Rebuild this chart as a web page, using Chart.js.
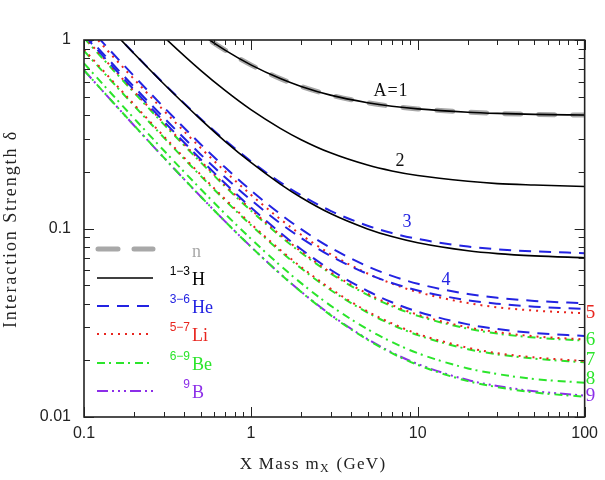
<!DOCTYPE html>
<html>
<head>
<meta charset="utf-8">
<script src="https://cdn.jsdelivr.net/npm/chart.js@4.4.1/dist/chart.umd.min.js"></script>
<style>
  html, body { margin: 0; padding: 0; background: #fff; }
</style>
</head>
<body>
<canvas id="myChart" width="605" height="480"></canvas>
<script>
// X mass in GeV, shared by every curve
const masses = [0.1, 0.15, 0.2, 0.3, 0.5, 0.7, 1, 1.5, 2, 3, 5, 7, 10, 20, 30, 50, 100];

// interaction strength delta
const neutron = [3.81, 2.67, 2.10, 1.53, 1.079, 0.884, 0.738, 0.624, 0.567, 0.510, 0.465, 0.445, 0.431, 0.414, 0.408, 0.403, 0.400];
const h1  = [3.81, 2.67, 2.10, 1.53, 1.079, 0.884, 0.738, 0.624, 0.567, 0.510, 0.465, 0.445, 0.431, 0.414, 0.408, 0.403, 0.400];
const h2  = [2.79, 1.92, 1.48, 1.041, 0.690, 0.540, 0.427, 0.340, 0.296, 0.252, 0.217, 0.202, 0.191, 0.178, 0.173, 0.170, 0.167];
const h3  = [1.62, 1.104, 0.845, 0.586, 0.379, 0.290, 0.224, 0.172, 0.146, 0.120, 0.0995, 0.0906, 0.0840, 0.0762, 0.0736, 0.0716, 0.0700];
const he3 = [1.623, 1.106, 0.848, 0.589, 0.3825, 0.294, 0.2275, 0.1758, 0.150, 0.1241, 0.1035, 0.0946, 0.0880, 0.0802, 0.0776, 0.0756, 0.0740];
const he4 = [1.245, 0.843, 0.642, 0.441, 0.280, 0.2111, 0.1594, 0.1193, 0.0992, 0.0791, 0.0630, 0.0561, 0.0509, 0.0449, 0.0429, 0.0413, 0.0401];
const he5 = [1.091, 0.739, 0.563, 0.388, 0.2472, 0.1869, 0.1418, 0.1066, 0.0891, 0.0715, 0.0574, 0.0514, 0.0469, 0.0416, 0.0399, 0.0385, 0.0374];
const he6 = [1.061, 0.716, 0.543, 0.371, 0.2328, 0.1737, 0.1294, 0.0949, 0.0776, 0.0604, 0.0466, 0.0406, 0.0362, 0.0310, 0.0293, 0.0279, 0.0269];
const li5 = [1.202, 0.813, 0.618, 0.423, 0.2678, 0.2011, 0.1511, 0.1121, 0.0927, 0.0732, 0.0577, 0.0510, 0.0460, 0.0402, 0.0382, 0.0367, 0.0355];
const li6 = [1.041, 0.702, 0.533, 0.3635, 0.2280, 0.1699, 0.1264, 0.0925, 0.0756, 0.0586, 0.0451, 0.0393, 0.0349, 0.0299, 0.0282, 0.0268, 0.0258];
const li7 = [0.890, 0.5995, 0.4543, 0.3092, 0.1931, 0.1433, 0.1060, 0.0770, 0.0625, 0.0480, 0.0363, 0.0314, 0.0276, 0.0233, 0.0218, 0.0207, 0.0198];
const be6 = [1.025, 0.691, 0.525, 0.358, 0.2245, 0.1673, 0.1244, 0.0911, 0.0744, 0.0578, 0.0444, 0.0387, 0.0344, 0.0294, 0.0277, 0.0264, 0.0254];
const be7 = [0.876, 0.590, 0.447, 0.3044, 0.1901, 0.1411, 0.1044, 0.0758, 0.0615, 0.0472, 0.0358, 0.0309, 0.0272, 0.0229, 0.0215, 0.0204, 0.0195];
const be8 = [0.752, 0.506, 0.383, 0.260, 0.1620, 0.1198, 0.0882, 0.0636, 0.0513, 0.0390, 0.0292, 0.0250, 0.0218, 0.0181, 0.0169, 0.0159, 0.0152];
const be9 = [0.691, 0.4646, 0.3515, 0.2384, 0.1479, 0.1091, 0.0800, 0.0574, 0.0461, 0.0347, 0.0257, 0.0218, 0.0189, 0.0155, 0.0144, 0.0135, 0.0128];
const b9  = [0.690, 0.464, 0.351, 0.2382, 0.1478, 0.1091, 0.0801, 0.0575, 0.0462, 0.0349, 0.0259, 0.0220, 0.0191, 0.0157, 0.0146, 0.0137, 0.0130];

// tick labels
const xTickLabels = ['0.1', '1', '10', '100'];
const yTickLabels = ['0.01', '0.1', '1'];

// line style per element
const styles = {
    n:  { color: '#a8a8a8', dash: [16, 18], width: 5, cap: 'round' },
    H:  { color: '#000000', dash: [], width: 1.6, cap: 'butt' },
    He: { color: '#2323e2', dash: [12, 8], width: 2, cap: 'butt' },
    Li: { color: '#e8261f', dash: [2, 5], width: 2, cap: 'butt' },
    Be: { color: '#2be52b', dash: [8, 4, 2, 5], width: 2, cap: 'butt' },
    B:  { color: '#8c2ee8', dash: [11, 4, 2, 4, 2, 4, 2, 4], width: 2, cap: 'butt' }
};

function series(label, el, vals) {
    const s = styles[el];
    return {
        label: label,
        data: masses.map((m, i) => ({ x: m, y: vals[i] })),
        borderColor: s.color,
        borderWidth: s.width,
        borderDash: s.dash,
        borderCapStyle: s.cap,
        pointRadius: 0,
        fill: false,
        cubicInterpolationMode: 'monotone'
    };
}

// first dataset is drawn on top
const datasets = [
    series('1H', 'H', h1),
    series('2H', 'H', h2),
    series('3H', 'H', h3),
    series('3He', 'He', he3),
    series('4He', 'He', he4),
    series('5He', 'He', he5),
    series('6He', 'He', he6),
    series('5Li', 'Li', li5),
    series('6Li', 'Li', li6),
    series('7Li', 'Li', li7),
    series('6Be', 'Be', be6),
    series('7Be', 'Be', be7),
    series('8Be', 'Be', be8),
    series('9Be', 'Be', be9),
    series('9B', 'B', b9),
    series('n', 'n', neutron)
];

const serif = '"Liberation Serif", "DejaVu Serif", serif';
const sans = '"Liberation Sans", Arial, sans-serif';

function isDecade(v) {
    const l = Math.log10(v);
    return Math.abs(l - Math.round(l)) < 1e-6;
}

const framePlugin = {
    id: 'framePlugin',
    afterDatasetsDraw(chart) {
        const ctx = chart.ctx;
        const a = chart.chartArea;
        const xs = chart.scales.x;
        const ys = chart.scales.y;
        ctx.save();
        ctx.setLineDash([]);
        ctx.strokeStyle = '#222';
        ctx.lineWidth = 1.6;
        ctx.strokeRect(a.left, a.top, a.right - a.left, a.bottom - a.top);

        // inward ticks on all four sides
        ctx.lineWidth = 1;
        ctx.beginPath();
        for (let e = -1; e <= 2; e++) {
            for (let k = 1; k <= 9; k++) {
                const v = k * Math.pow(10, e);
                if (v < 0.1 - 1e-9 || v > 100 + 1e-9) continue;
                const px = Math.round(xs.getPixelForValue(v)) + 0.5;
                const len = k === 1 ? 10 : 5;
                ctx.moveTo(px, a.bottom); ctx.lineTo(px, a.bottom - len);
                ctx.moveTo(px, a.top); ctx.lineTo(px, a.top + len);
            }
        }
        for (let e = -2; e <= 0; e++) {
            for (let k = 1; k <= 9; k++) {
                const v = k * Math.pow(10, e);
                if (v < 0.01 - 1e-9 || v > 1 + 1e-9) continue;
                const py = Math.round(ys.getPixelForValue(v)) + 0.5;
                const len = k === 1 ? 10 : 6;
                ctx.moveTo(a.left, py); ctx.lineTo(a.left + len, py);
                ctx.moveTo(a.right, py); ctx.lineTo(a.right - len, py);
            }
        }
        ctx.stroke();

        // axis titles
        ctx.fillStyle = '#222';
        ctx.textBaseline = 'middle';
        ctx.textAlign = 'left';
        ctx.font = '17px ' + serif;
        const p1 = 'X Mass m', p3 = ' (GeV)';
        ctx.letterSpacing = '1.3px';
        const w1 = ctx.measureText(p1).width;
        ctx.font = '12px ' + serif;
        const w2 = ctx.measureText('X').width + 1;
        ctx.font = '17px ' + serif;
        const w3 = ctx.measureText(p3).width;
        let tx = 313 - (w1 + w2 + w3) / 2;
        const ty = 465;
        ctx.fillText(p1, tx, ty);
        ctx.font = '12px ' + serif;
        ctx.fillText('X', tx + w1, ty + 4);
        ctx.font = '17px ' + serif;
        ctx.fillText(p3, tx + w1 + w2, ty);
        ctx.letterSpacing = '0px';

        ctx.save();
        ctx.translate(11, 229);
        ctx.rotate(-Math.PI / 2);
        ctx.textAlign = 'center';
        ctx.font = '18px ' + serif;
        ctx.letterSpacing = '1.9px';
        ctx.fillText('Interaction Strength \u03b4', 0, 0);
        ctx.restore();

        // curve labels
        ctx.textAlign = 'center';
        ctx.textBaseline = 'middle';
        ctx.font = '18px ' + serif;
        ctx.fillStyle = '#111';
        ctx.letterSpacing = '1px';
        ctx.fillText('A=1', 391, 91);
        ctx.letterSpacing = '0px';
        ctx.fillText('2', 400, 161);
        ctx.fillStyle = styles.He.color;
        ctx.fillText('3', 407, 222);
        ctx.fillText('4', 446, 280);

        // mass number labels at right edge
        ctx.textAlign = 'left';
        ctx.font = '19px ' + serif;
        const right = [['5', styles.Li.color, 313], ['6', styles.Be.color, 340], ['7', styles.Be.color, 360],
                       ['8', styles.Be.color, 379], ['9', styles.B.color, 396]];
        right.forEach(r => {
            ctx.fillStyle = r[1];
            ctx.fillText(r[0], a.right + 1, r[2]);
        });

        // legend
        const legend = [
            { el: 'n',  y: 249, sup: '',    name: 'n' },
            { el: 'H',  y: 278, sup: '1\u22123', name: 'H' },
            { el: 'He', y: 306, sup: '3\u22126', name: 'He' },
            { el: 'Li', y: 334, sup: '5\u22127', name: 'Li' },
            { el: 'Be', y: 363, sup: '6\u22129', name: 'Be' },
            { el: 'B',  y: 391, sup: '9',   name: 'B' }
        ];
        legend.forEach(l => {
            const s = styles[l.el];
            ctx.strokeStyle = s.color;
            ctx.lineWidth = s.width;
            ctx.lineCap = s.cap;
            ctx.setLineDash(l.el === 'n' ? [20, 16] : s.dash);
            ctx.beginPath();
            if (l.el === 'n') { ctx.moveTo(98, l.y); ctx.lineTo(153, l.y); }
            else { ctx.moveTo(97, l.y); ctx.lineTo(153, l.y); }
            ctx.stroke();
            ctx.setLineDash([]);
            ctx.lineCap = 'butt';
            ctx.fillStyle = s.color;
            ctx.textBaseline = 'alphabetic';
            ctx.textAlign = 'right';
            ctx.font = '12px ' + sans;
            if (l.sup) ctx.fillText(l.sup, 190, l.y - 3);
            ctx.textAlign = 'left';
            ctx.font = '18px ' + serif;
            ctx.fillText(l.name, 192, l.y + (l.el === 'n' ? 8 : 7));
        });
        ctx.restore();
    }
};

const ctx = document.getElementById('myChart').getContext('2d');
const myChart = new Chart(ctx, {
    type: 'line',
    data: { datasets: datasets },
    options: {
        responsive: false,
        animation: false,
        devicePixelRatio: 1,
        layout: { padding: { left: 0, top: 40, right: 13, bottom: 0 }, autoPadding: false },
        plugins: { legend: { display: false }, tooltip: { enabled: false } },
        scales: {
            x: {
                type: 'logarithmic',
                min: 0.1,
                max: 100,
                grid: { display: false, drawTicks: false },
                border: { display: false },
                ticks: {
                    autoSkip: false,
                    maxRotation: 0,
                    padding: 7,
                    color: '#222',
                    font: { family: sans, size: 16 },
                    callback: (v) => isDecade(v) ? xTickLabels[Math.round(Math.log10(v)) + 1] : ''
                },
                afterFit: (s) => { s.height = 63; }
            },
            y: {
                type: 'logarithmic',
                min: 0.01,
                max: 1,
                grid: { display: false, drawTicks: false },
                border: { display: false },
                ticks: {
                    autoSkip: false,
                    padding: 13,
                    color: '#222',
                    font: { family: sans, size: 16 },
                    callback: (v) => isDecade(v) ? yTickLabels[Math.round(Math.log10(v)) + 2] : ''
                },
                afterFit: (s) => { s.width = 84; }
            }
        }
    },
    plugins: [framePlugin]
});
</script>
</body>
</html>
